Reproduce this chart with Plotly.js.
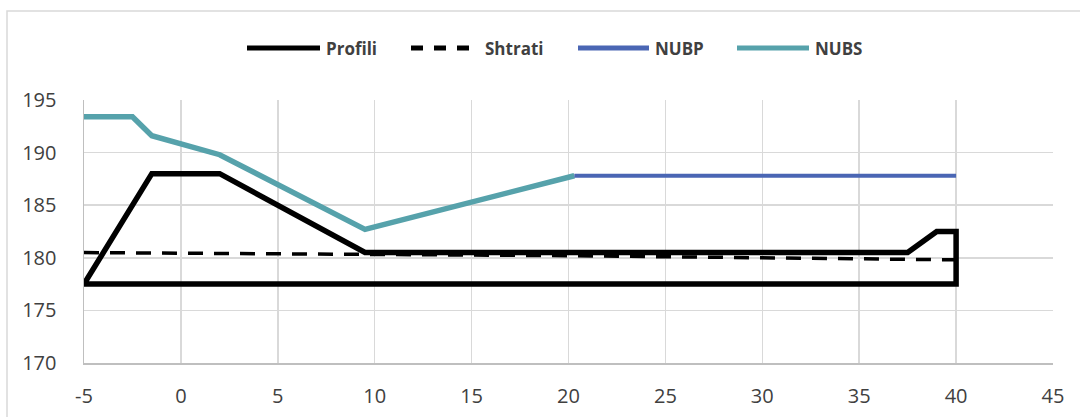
<!DOCTYPE html>
<html>
<head>
<meta charset="utf-8">
<script src="https://cdn.plot.ly/plotly-3.0.1.min.js"></script>
<style>html,body{margin:0;padding:0;background:#fff;}#chart{width:1080px;height:417px;}</style>
</head>
<body>
<div id="chart"></div>
<script>
// Profili (closed outline of the embankment profile)
const profiliX = [-5, -1.5, 2, 9.5, 37.5, 39, 40, 40, -5];
const profiliY = [177.5, 188, 188, 180.5, 180.5, 182.5, 182.5, 177.5, 177.5];
// Shtrati (dashed)
const shtratiX = [-5, 9.5, 20, 40.3];
const shtratiY = [180.5, 180.35, 180.2, 179.8];
// NUBP
const nubpX = [20.3, 40];
const nubpY = [187.8, 187.8];
// NUBS
const nubsX = [-5, -2.5, -1.5, 2, 9.5, 20.3];
const nubsY = [193.4, 193.4, 191.6, 189.8, 182.7, 187.8];

const seriesNames = ["Profili", "Shtrati", "NUBP", "NUBS"];
const xTicks = [-5, 0, 5, 10, 15, 20, 25, 30, 35, 40, 45];
const yTicks = [170, 175, 180, 185, 190, 195];

const colors = ["#000000", "#000000", "#4A66B4", "#56A2AB"];
const widths = [5.5, 3.5, 4, 5.5];

const traces = [
  {x: profiliX, y: profiliY},
  {x: shtratiX, y: shtratiY},
  {x: nubpX, y: nubpY},
  {x: nubsX, y: nubsY}
].map((d, i) => ({
  x: d.x, y: d.y, type: "scatter", mode: "lines", name: seriesNames[i],
  line: {color: colors[i], width: widths[i], dash: i === 1 ? "15px,11px" : "solid"},
  hoverinfo: "skip", showlegend: false
}));
// draw order: NUBS under Profili
const ordered = [traces[3], traces[2], traces[1], traces[0]];

// custom legend (line samples + labels), in paper coords
const L = 84, R = 1053, T = 100, B = 363;
const px = v => (v - L) / (R - L);
const py = v => (B - v) / (B - T);
const legY = 48;
const legItems = [[247, 320, 324], [411, 478, 483], [578, 649, 653], [737, 809, 813]];
const shapes = [];
const annotations = [];
legItems.forEach((it, i) => {
  shapes.push({type: "line", xref: "paper", yref: "paper", x0: px(it[0]), x1: px(it[1]), y0: py(legY), y1: py(legY),
    line: {color: colors[i], width: 5, dash: i === 1 ? "12px,11px" : "solid"}});
  annotations.push({xref: "paper", yref: "paper", x: px(it[2]), y: py(legY), xanchor: "left", yanchor: "middle",
    text: "<b>" + seriesNames[i] + "</b>", showarrow: false, font: {family: "Open Sans, Arial", size: 17, color: "#404040"}});
});
// outer chart border
shapes.push({type: "rect", xref: "paper", yref: "paper", x0: px(7), x1: px(1100), y0: py(11), y1: py(440),
  line: {color: "#d9d9d9", width: 1.5}, layer: "below"});

const layout = {
  width: 1080, height: 417,
  margin: {l: L, r: 1080 - R, t: T, b: 417 - B},
  paper_bgcolor: "#ffffff", plot_bgcolor: "#ffffff",
  showlegend: false,
  font: {family: "Open Sans, Arial", color: "#404040", size: 20},
  xaxis: {range: [-5, 45], tickvals: xTicks, ticktext: xTicks.map(String), showgrid: true, gridcolor: "#d9d9d9", gridwidth: 1.5,
    zeroline: false, showline: true, linecolor: "#bfbfbf", linewidth: 1.5, ticks: "", ticklabelstandoff: 14,
    tickfont: {size: 20, color: "#404040"}},
  yaxis: {range: [170, 195], tickvals: yTicks, ticktext: yTicks.map(String), showgrid: true, gridcolor: "#d9d9d9", gridwidth: 1.5,
    zeroline: false, showline: true, linecolor: "#bfbfbf", linewidth: 1.5, ticks: "", ticklabelstandoff: 22,
    tickfont: {size: 20, color: "#404040"}},
  shapes: shapes, annotations: annotations
};
Plotly.newPlot("chart", ordered, layout, {displayModeBar: false, staticPlot: true});
</script>
</body>
</html>
